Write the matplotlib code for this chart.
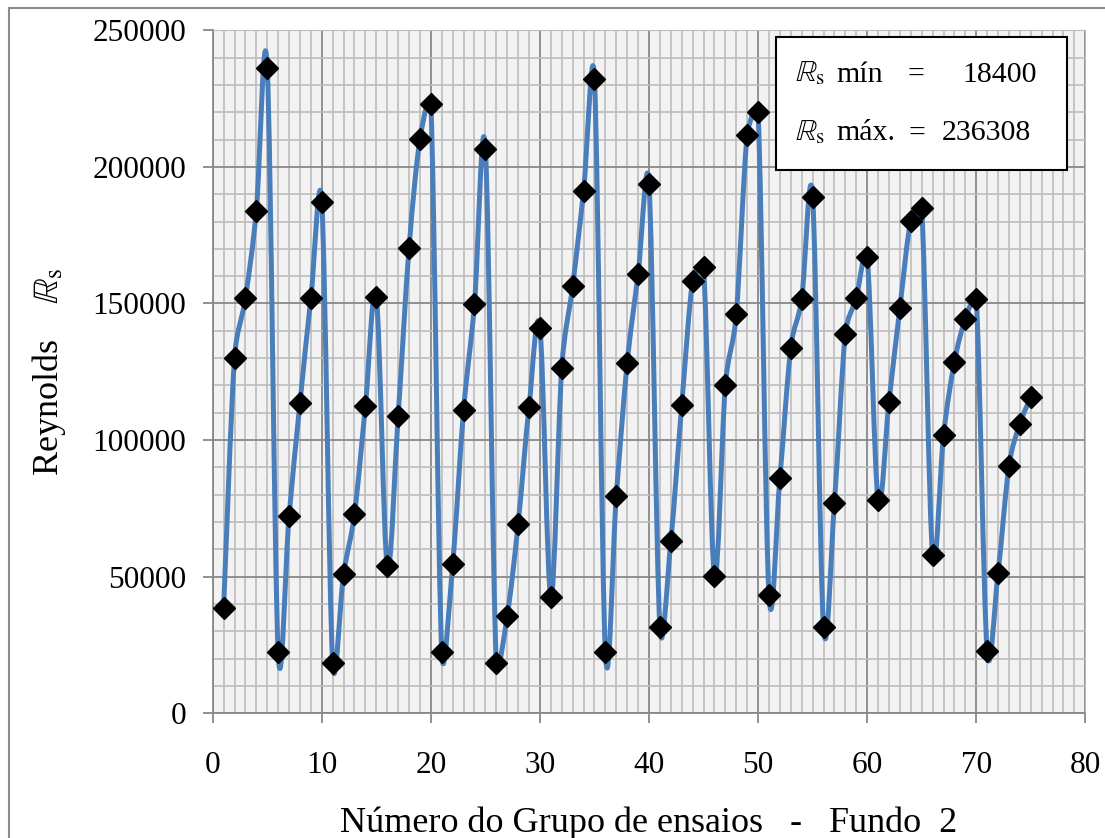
import numpy as np
import matplotlib
matplotlib.use('Agg')
import matplotlib.pyplot as plt
from matplotlib.path import Path
from matplotlib.patches import PathPatch, Rectangle

plt.rcParams['font.family'] = ['Liberation Serif', 'DejaVu Serif']
plt.rcParams['mathtext.fontset'] = 'stix'

# grupo de ensaios 1..75, Fundo 2
grupo = np.arange(1, 76)
reynolds = [38500, 130000, 152000, 184000, 236308, 22400, 72200, 113600, 152000, 187100,
            18400, 51000, 73000, 112500, 152400, 53900, 108800, 170300, 210200, 223000,
            22400, 54600, 111000, 149800, 206500, 18400, 35600, 69300, 112100, 141000,
            42600, 126400, 156400, 191200, 232100, 22400, 79500, 128200, 160800, 193700,
            31600, 63000, 112800, 158200, 163300, 50200, 120000, 146000, 211700, 220100,
            43300, 86100, 133800, 151800, 189000, 31600, 77000, 138800, 152000, 167100,
            78100, 114000, 148400, 180300, 184800, 57900, 101700, 128600, 144300, 151600,
            22800, 51300, 90500, 106000, 115600]
rs_min = 18400
rs_max = 236308

W, H = 1105, 838
fig = plt.figure(figsize=(W/100, H/100), dpi=100)
ax_l, ax_r, ax_t, ax_b = 212.7, 1085.3, 30.3, 713.3
ax = fig.add_axes([ax_l/W, 1-ax_b/H, (ax_r-ax_l)/W, (ax_b-ax_t)/H])
ax.set_facecolor('#f2f2f2')
ax.set_xlim(0, 80)
ax.set_ylim(0, 250000)

# excel-like smoothed line (bezier, control arms limited to half the segment, in pixels)
sx = (ax_r-ax_l)/80
sy = (ax_b-ax_t)/250000
pts = np.column_stack([grupo, reynolds]).astype(float)
scr = pts*[sx, sy]
n = len(pts)
verts = [pts[0]]
codes = [Path.MOVETO]
for i in range(n-1):
    i0 = max(i-1, 0); i3 = min(i+2, n-1)
    p0, p1, p2, p3 = pts[i0], pts[i], pts[i+1], pts[i3]
    d02 = np.hypot(*(scr[i+1]-scr[i0]))
    d13 = np.hypot(*(scr[i3]-scr[i]))
    d12 = np.hypot(*(scr[i+1]-scr[i]))
    f1 = f2 = 1/6
    if d02/6 >= d12/2 and d02 > 0:
        f1 = d12/d02/2
    if d13/6 >= d12/2 and d13 > 0:
        f2 = d12/d13/2
    verts += [p1 + (p2-p0)*f1, p2 - (p3-p1)*f2, p2]
    codes += [Path.CURVE4]*3
ax.add_patch(PathPatch(Path(verts, codes), facecolor='none', edgecolor='#4a7ebb',
                       lw=3.6, zorder=3, capstyle='round', joinstyle='round'))
ax.plot(grupo, reynolds, ls='none', marker='D', ms=11, color='black', zorder=4)

ax.set_xticks(range(0, 81, 10))
ax.set_xticks(range(0, 81), minor=True)
ax.set_yticks(range(0, 250001, 50000))
ax.set_yticks(range(0, 250001, 10000), minor=True)
ax.grid(which='minor', color='#bcbcbc', lw=1.2, zorder=0)
ax.grid(which='major', color='#888888', lw=1.3, zorder=1)
ax.set_axisbelow(True)
ax.tick_params(which='major', direction='out', length=7, width=1.3, color='#888888',
               labelsize=22.5)
ax.tick_params(axis='x', pad=20)
ax.tick_params(axis='y', pad=12)
ax.tick_params(which='minor', length=0)
for s in ['left', 'bottom']:
    ax.spines[s].set_color('#888888')
    ax.spines[s].set_linewidth(1.3)
for s in ['top', 'right']:
    ax.spines[s].set_color('#bcbcbc')

ax.set_xlabel('Número do Grupo de ensaios   -   Fundo  2', fontsize=26, labelpad=19)
ax.set_ylabel(r'Reynolds    $\mathbb{R}_\mathrm{s}$', fontsize=26, labelpad=18)

# caixa com min / max
def fx(px): return px/W
def fy(py): return 1-py/H
fig.patches.append(Rectangle((fx(776), fy(170)), fx(1066.7)-fx(776), fy(37.3)-fy(170),
                             transform=fig.transFigure, facecolor='white',
                             edgecolor='black', lw=1.5, zorder=5))
for yb, lab, val, xe, xr in [(81.5, 'mín', f'{rs_min}', 916, 1037),
                              (140.5, 'máx.', f'{rs_max}', 917, 1031)]:
    kw = dict(transform=fig.transFigure, fontsize=21.5, va='baseline', zorder=6)
    fig.text(fx(795), fy(yb), r'$\mathbb{R}_\mathrm{s}$', ha='left', **kw)
    fig.text(fx(836), fy(yb), lab, ha='left', **kw)
    fig.text(fx(xe), fy(yb), '=', ha='center', **kw)
    fig.text(fx(xr), fy(yb), val, ha='right', **kw)

# moldura cinza do grafico
fig.patches.append(Rectangle((fx(8.5), -0.1), 2, fy(8.5)+0.1, transform=fig.transFigure,
                             facecolor='none', edgecolor='#8c8c8c', lw=1.5))

fig.savefig('out.png', dpi=100, facecolor='white')
